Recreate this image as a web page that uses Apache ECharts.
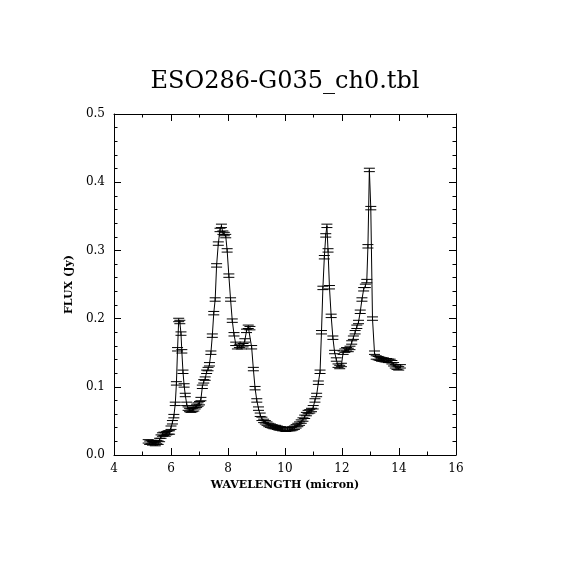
<!DOCTYPE html>
<html><head><meta charset="utf-8">
<script src="https://cdn.jsdelivr.net/npm/echarts@6/dist/echarts.min.js"></script>
<style>html,body{margin:0;padding:0;background:#fff}#c{width:570px;height:570px}</style>
</head><body><div id="c"></div>
<script>
const titleText = 'ESO286-G035_ch0.tbl';
const xName = 'WAVELENGTH (micron)';
const yName = 'FLUX (Jy)';
const wavelength = [5.20,5.25,5.30,5.35,5.40,5.45,5.50,5.55,5.60,5.65,5.70,5.75,5.80,5.85,5.90,5.95,6.00,6.05,6.10,6.15,6.19,6.23,6.27,6.31,6.35,6.38,6.42,6.46,6.50,6.55,6.60,6.65,6.70,6.75,6.80,6.85,6.90,6.95,7.00,7.05,7.10,7.15,7.20,7.25,7.30,7.35,7.40,7.45,7.50,7.55,7.60,7.66,7.72,7.77,7.82,7.87,7.92,7.97,8.03,8.09,8.15,8.21,8.27,8.33,8.40,8.47,8.53,8.59,8.65,8.71,8.77,8.83,8.89,8.95,9.01,9.07,9.13,9.19,9.25,9.31,9.37,9.43,9.49,9.55,9.61,9.67,9.73,9.79,9.85,9.91,9.97,10.03,10.09,10.15,10.21,10.27,10.33,10.39,10.45,10.51,10.57,10.63,10.69,10.75,10.81,10.87,10.93,10.99,11.05,11.11,11.17,11.23,11.28,11.33,11.38,11.43,11.47,11.51,11.56,11.62,11.68,11.74,11.80,11.86,11.92,11.98,12.04,12.10,12.16,12.22,12.28,12.34,12.40,12.46,12.52,12.58,12.64,12.70,12.76,12.82,12.87,12.91,12.96,13.01,13.07,13.14,13.20,13.27,13.33,13.39,13.45,13.51,13.57,13.63,13.69,13.75,13.81,13.87,13.93,13.99,14.05,14.11];
const flux = [0.020,0.018,0.019,0.017,0.018,0.016,0.019,0.018,0.022,0.027,0.030,0.031,0.030,0.032,0.033,0.033,0.040,0.048,0.057,0.075,0.105,0.155,0.198,0.195,0.178,0.152,0.122,0.102,0.088,0.075,0.068,0.066,0.065,0.066,0.067,0.070,0.072,0.074,0.076,0.082,0.100,0.108,0.112,0.122,0.126,0.133,0.150,0.175,0.208,0.228,0.278,0.310,0.330,0.336,0.326,0.324,0.321,0.300,0.263,0.228,0.197,0.177,0.163,0.158,0.160,0.158,0.161,0.168,0.182,0.188,0.186,0.158,0.126,0.098,0.080,0.068,0.059,0.053,0.050,0.048,0.046,0.044,0.043,0.042,0.041,0.041,0.040,0.039,0.039,0.038,0.038,0.037,0.038,0.038,0.038,0.039,0.040,0.042,0.044,0.046,0.049,0.052,0.056,0.060,0.063,0.064,0.066,0.070,0.080,0.088,0.106,0.122,0.180,0.245,0.290,0.322,0.336,0.300,0.246,0.204,0.172,0.151,0.140,0.131,0.129,0.132,0.150,0.153,0.155,0.154,0.157,0.165,0.172,0.180,0.188,0.195,0.210,0.228,0.243,0.248,0.255,0.306,0.418,0.362,0.200,0.150,0.143,0.142,0.141,0.140,0.140,0.139,0.139,0.138,0.138,0.136,0.133,0.130,0.128,0.127,0.130];
const fluxErr = [0.0025,0.0025,0.0025,0.0025,0.0025,0.0025,0.0025,0.0025,0.0025,0.0025,0.0025,0.0025,0.0025,0.0025,0.0025,0.0025,0.0025,0.0025,0.0025,0.0025,0.0025,0.0025,0.0025,0.0025,0.0025,0.0025,0.0025,0.0025,0.0025,0.0025,0.0025,0.0025,0.0025,0.0025,0.0025,0.0025,0.0025,0.0025,0.0025,0.0025,0.0025,0.0025,0.0025,0.0025,0.0025,0.0025,0.0025,0.0025,0.0025,0.0025,0.0025,0.0025,0.0025,0.0025,0.0025,0.0025,0.0025,0.0025,0.0025,0.0025,0.0025,0.0025,0.0025,0.0025,0.0025,0.0025,0.0025,0.0025,0.0025,0.0025,0.0025,0.0025,0.0025,0.0025,0.0025,0.0025,0.0025,0.0025,0.0025,0.0025,0.0025,0.0025,0.0025,0.0025,0.0025,0.0025,0.0025,0.0025,0.0025,0.0025,0.0025,0.0025,0.0025,0.0025,0.0025,0.0025,0.0025,0.0025,0.0025,0.0025,0.0025,0.0025,0.0025,0.0025,0.0025,0.0025,0.0025,0.0025,0.0025,0.0025,0.0025,0.0025,0.0025,0.0025,0.0025,0.0025,0.0025,0.0025,0.0025,0.0025,0.0025,0.0025,0.0025,0.0025,0.0025,0.0025,0.0025,0.0025,0.0025,0.0025,0.0025,0.0025,0.0025,0.0025,0.0025,0.0025,0.0025,0.0025,0.0025,0.0025,0.0025,0.0025,0.0025,0.0025,0.0025,0.0025,0.0025,0.0025,0.0025,0.0025,0.0025,0.0025,0.0025,0.0025,0.0025,0.0025,0.0025,0.0025,0.0025,0.0025,0.0025,0.0025,0.0025];

const lineData = wavelength.map((w, i) => [w, flux[i]]);
const errData = wavelength.map((w, i) => [w, flux[i] - fluxErr[i], flux[i] + fluxErr[i]]);

const font = 'DejaVu Serif';
const chart = echarts.init(document.getElementById('c'), null, {renderer: 'canvas'});
const baseTick = {show: true, inside: true, length: 7, lineStyle: {color: '#000', width: 1}};
const baseMinor = {show: true, length: 3.5, lineStyle: {color: '#000', width: 1}};
chart.setOption({
  backgroundColor: '#fff',
  animation: false,
  title: {text: titleText, left: 'center', top: 65,
    textStyle: {fontFamily: font, fontSize: 24, fontWeight: 'normal', color: '#000'}},
  grid: {left: 114, right: 114, top: 114, bottom: 115, containLabel: false},
  xAxis: [
    {type: 'value', min: 4, max: 16, interval: 2, position: 'bottom',
     name: xName, nameLocation: 'middle', nameGap: 23,
     nameTextStyle: {fontFamily: font, fontSize: 11, fontWeight: 'bold', color: '#000'},
     axisLine: {show: true, onZero: false, lineStyle: {color: '#000', width: 1}},
     axisTick: baseTick, minorTick: Object.assign({splitNumber: 2}, baseMinor),
     splitLine: {show: false},
     axisLabel: {fontFamily: font, fontSize: 12, color: '#000', margin: 8}},
    {type: 'value', min: 4, max: 16, interval: 2, position: 'top',
     axisLine: {show: true, onZero: false, lineStyle: {color: '#000', width: 1}},
     axisTick: baseTick, minorTick: Object.assign({splitNumber: 2}, baseMinor),
     splitLine: {show: false}, axisLabel: {show: false}}
  ],
  yAxis: [
    {type: 'value', min: 0, max: 0.5, interval: 0.1, position: 'left',
     name: yName, nameLocation: 'middle', nameGap: 37, nameRotate: 90,
     nameTextStyle: {fontFamily: font, fontSize: 11, fontWeight: 'bold', color: '#000'},
     axisLine: {show: true, onZero: false, lineStyle: {color: '#000', width: 1}},
     axisTick: baseTick, minorTick: Object.assign({splitNumber: 5}, baseMinor),
     splitLine: {show: false},
     axisLabel: {fontFamily: font, fontSize: 12, color: '#000', margin: 9,
       formatter: v => v.toFixed(1)}},
    {type: 'value', min: 0, max: 0.5, interval: 0.1, position: 'right',
     axisLine: {show: true, onZero: false, lineStyle: {color: '#000', width: 1}},
     axisTick: baseTick, minorTick: Object.assign({splitNumber: 5}, baseMinor),
     splitLine: {show: false}, axisLabel: {show: false}}
  ],
  series: [
    {type: 'line', data: lineData, xAxisIndex: 0, yAxisIndex: 0, showSymbol: false,
     symbol: 'none', lineStyle: {color: '#000', width: 1}, z: 2},
    {type: 'custom', data: errData, xAxisIndex: 0, yAxisIndex: 0, z: 3,
     renderItem: function (params, api) {
       const x = api.value(0);
       const lo = api.coord([x, api.value(1)]);
       const hi = api.coord([x, api.value(2)]);
       const hw = 5.5;
       const st = {stroke: '#000', lineWidth: 1, fill: null};
       return {type: 'group', children: [
         {type: 'line', shape: {x1: lo[0], y1: lo[1], x2: hi[0], y2: hi[1]}, style: st},
         {type: 'line', shape: {x1: lo[0] - hw, y1: lo[1], x2: lo[0] + hw, y2: lo[1]}, style: st},
         {type: 'line', shape: {x1: hi[0] - hw, y1: hi[1], x2: hi[0] + hw, y2: hi[1]}, style: st}
       ]};
     }}
  ]
});
</script></body></html>
